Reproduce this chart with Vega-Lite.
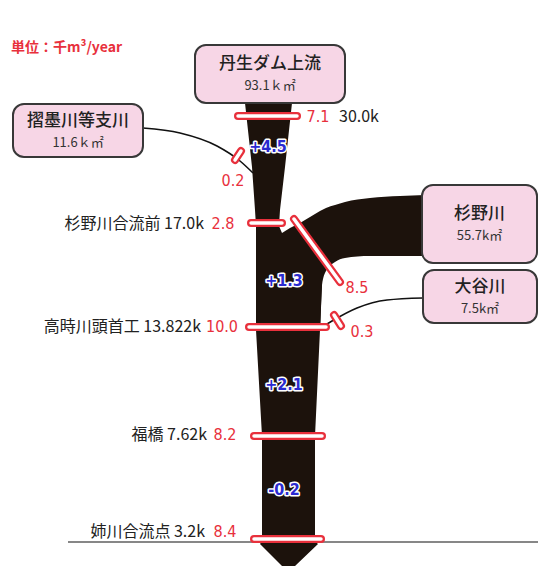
{
  "$schema": "https://vega.github.io/schema/vega-lite/v6.json",
  "width": 538,
  "height": 566,
  "autosize": "none",
  "padding": 0,
  "background": "white",
  "config": {"view": {"stroke": null}},
  "datasets": {
    "trunk": [
      {"y": 103, "xl": 245, "xr": 292},
      {"y": 167, "xl": 252, "xr": 285},
      {"y": 210, "xl": 255, "xr": 280},
      {"y": 226, "xl": 256, "xr": 279},
      {"y": 233, "xl": 256, "xr": 282},
      {"y": 245, "xl": 256, "xr": 302},
      {"y": 285, "xl": 256, "xr": 322},
      {"y": 330, "xl": 256, "xr": 320},
      {"y": 436, "xl": 262, "xr": 315},
      {"y": 541, "xl": 262, "xr": 315},
      {"y": 544, "xl": 260, "xr": 318},
      {"y": 566, "xl": 282, "xr": 295}
    ],
    "band": [
      {"x": 282, "top": 233, "bottom": 330},
      {"x": 290, "top": 228, "bottom": 330},
      {"x": 300, "top": 223, "bottom": 330},
      {"x": 310, "top": 217, "bottom": 330},
      {"x": 320, "top": 211, "bottom": 330},
      {"x": 322, "top": 210, "bottom": 285},
      {"x": 326, "top": 208, "bottom": 271},
      {"x": 335, "top": 205, "bottom": 262},
      {"x": 345, "top": 202, "bottom": 258},
      {"x": 370, "top": 198, "bottom": 256},
      {"x": 400, "top": 196, "bottom": 256},
      {"x": 425, "top": 195, "bottom": 256}
    ],
    "tribs": [
      {"id": "settsu", "x": 143, "y": 128},
      {"id": "settsu", "x": 180, "y": 133},
      {"id": "settsu", "x": 217, "y": 146},
      {"id": "settsu", "x": 240, "y": 161},
      {"id": "settsu", "x": 253, "y": 173},
      {"id": "otani", "x": 319, "y": 329},
      {"id": "otani", "x": 332, "y": 321},
      {"id": "otani", "x": 357, "y": 308},
      {"id": "otani", "x": 387, "y": 300},
      {"id": "otani", "x": 423, "y": 298}
    ],
    "baseline": [{"x": 68, "x2": 538, "y": 542}],
    "boxes": [
      {"name": "丹生ダム上流", "area": "93.1ｋ㎡", "x": 195, "x2": 345, "y": 45, "y2": 103},
      {"name": "摺墨川等支川", "area": "11.6ｋ㎡", "x": 13, "x2": 143, "y": 104, "y2": 157},
      {"name": "杉野川", "area": "55.7k㎡", "x": 422, "x2": 537, "y": 185, "y2": 263},
      {"name": "大谷川", "area": "7.5k㎡", "x": 423, "x2": 537, "y": 270, "y2": 323}
    ],
    "gauges": [
      {"x": 238, "y": 116, "x2": 297, "y2": 116},
      {"x": 251, "y": 223, "x2": 282, "y2": 223},
      {"x": 249, "y": 327, "x2": 326, "y2": 327},
      {"x": 254, "y": 436, "x2": 322, "y2": 436},
      {"x": 254, "y": 539, "x2": 321, "y2": 539},
      {"x": 294, "y": 219, "x2": 340, "y2": 282},
      {"x": 235, "y": 160, "x2": 241, "y2": 151},
      {"x": 334, "y": 315, "x2": 341, "y2": 326}
    ],
    "sites": [
      {"label": "杉野川合流前 17.0k", "x": 204, "y": 224},
      {"label": "高時川頭首工 13.822k", "x": 201, "y": 327},
      {"label": "福橋 7.62k", "x": 207, "y": 435},
      {"label": "姉川合流点 3.2k", "x": 205, "y": 532}
    ],
    "topsite": [{"label": "30.0k", "x": 339, "y": 117}],
    "values": [
      {"v": "7.1", "x": 318, "y": 117},
      {"v": "0.2", "x": 233, "y": 181},
      {"v": "2.8", "x": 223, "y": 224},
      {"v": "8.5", "x": 357, "y": 288},
      {"v": "10.0", "x": 222, "y": 327},
      {"v": "0.3", "x": 362, "y": 332},
      {"v": "8.2", "x": 225, "y": 435},
      {"v": "8.4", "x": 225, "y": 532}
    ],
    "changes": [
      {"v": "+4.5", "x": 268, "y": 147},
      {"v": "+1.3", "x": 284, "y": 281},
      {"v": "+2.1", "x": 284, "y": 385},
      {"v": "-0.2", "x": 284, "y": 490}
    ],
    "unit": [{"t": "単位：千m³/year", "x": 11, "y": 48}]
  },
  "layer": [
    {
      "data": {"name": "baseline"},
      "mark": {"type": "rule", "color": "#111111", "strokeWidth": 1.2},
      "encoding": {
        "x": {"field": "x", "type": "quantitative", "scale": {"domain": [0, 538], "nice": false, "zero": false}, "axis": null},
        "x2": {"field": "x2"},
        "y": {"field": "y", "type": "quantitative", "scale": {"domain": [0, 566], "nice": false, "zero": false, "reverse": true}, "axis": null}
      }
    },
    {
      "data": {"name": "trunk"},
      "mark": {"type": "area", "orient": "horizontal", "color": "#1c120c", "opacity": 1},
      "encoding": {
        "y": {"field": "y", "type": "quantitative"},
        "x": {"field": "xl", "type": "quantitative"},
        "x2": {"field": "xr"}
      }
    },
    {
      "data": {"name": "band"},
      "mark": {"type": "area", "orient": "vertical", "color": "#1c120c", "opacity": 1, "interpolate": "monotone"},
      "encoding": {
        "x": {"field": "x", "type": "quantitative"},
        "y": {"field": "top", "type": "quantitative"},
        "y2": {"field": "bottom"}
      }
    },
    {
      "data": {"name": "tribs"},
      "mark": {"type": "line", "color": "#111111", "strokeWidth": 1.6, "interpolate": "monotone"},
      "encoding": {
        "x": {"field": "x", "type": "quantitative"},
        "y": {"field": "y", "type": "quantitative"},
        "detail": {"field": "id"},
        "order": {"field": "x", "type": "quantitative"}
      }
    },
    {
      "data": {"name": "boxes"},
      "mark": {"type": "rect", "fill": "#f7d6e6", "stroke": "#383838", "strokeWidth": 2, "cornerRadius": 11},
      "encoding": {
        "x": {"field": "x", "type": "quantitative"},
        "x2": {"field": "x2"},
        "y": {"field": "y", "type": "quantitative"},
        "y2": {"field": "y2"}
      }
    },
    {
      "data": {"name": "boxes"},
      "transform": [
        {"calculate": "(datum.x + datum.x2) / 2", "as": "cx"},
        {"calculate": "(datum.y + datum.y2) / 2 - 10", "as": "ty"}
      ],
      "mark": {"type": "text", "font": "Noto Sans CJK JP", "fontSize": 17, "fontWeight": 500, "color": "#222222", "align": "center", "baseline": "middle"},
      "encoding": {
        "x": {"field": "cx", "type": "quantitative"},
        "y": {"field": "ty", "type": "quantitative"},
        "text": {"field": "name"}
      }
    },
    {
      "data": {"name": "boxes"},
      "transform": [
        {"calculate": "(datum.x + datum.x2) / 2", "as": "cx"},
        {"calculate": "(datum.y + datum.y2) / 2 + 12", "as": "ty"}
      ],
      "mark": {"type": "text", "font": "Noto Sans CJK JP", "fontSize": 13, "color": "#333333", "align": "center", "baseline": "middle"},
      "encoding": {
        "x": {"field": "cx", "type": "quantitative"},
        "y": {"field": "ty", "type": "quantitative"},
        "text": {"field": "area"}
      }
    },
    {
      "data": {"name": "gauges"},
      "mark": {"type": "rule", "color": "#e8303c", "strokeWidth": 8, "strokeCap": "round"},
      "encoding": {
        "x": {"field": "x", "type": "quantitative"},
        "x2": {"field": "x2"},
        "y": {"field": "y", "type": "quantitative"},
        "y2": {"field": "y2"}
      }
    },
    {
      "data": {"name": "gauges"},
      "mark": {"type": "rule", "color": "#ffffff", "strokeWidth": 3.5, "strokeCap": "round"},
      "encoding": {
        "x": {"field": "x", "type": "quantitative"},
        "x2": {"field": "x2"},
        "y": {"field": "y", "type": "quantitative"},
        "y2": {"field": "y2"}
      }
    },
    {
      "data": {"name": "sites"},
      "mark": {"type": "text", "font": "Noto Sans CJK JP", "fontSize": 16, "color": "#222222", "align": "right", "baseline": "middle"},
      "encoding": {
        "x": {"field": "x", "type": "quantitative"},
        "y": {"field": "y", "type": "quantitative"},
        "text": {"field": "label"}
      }
    },
    {
      "data": {"name": "topsite"},
      "mark": {"type": "text", "font": "Noto Sans CJK JP", "fontSize": 16, "color": "#222222", "align": "left", "baseline": "middle"},
      "encoding": {
        "x": {"field": "x", "type": "quantitative"},
        "y": {"field": "y", "type": "quantitative"},
        "text": {"field": "label"}
      }
    },
    {
      "data": {"name": "values"},
      "mark": {"type": "text", "font": "Liberation Sans Narrow, DejaVu Sans Condensed, Liberation Sans", "fontSize": 16, "color": "#e8303c", "align": "center", "baseline": "middle"},
      "encoding": {
        "x": {"field": "x", "type": "quantitative"},
        "y": {"field": "y", "type": "quantitative"},
        "text": {"field": "v"}
      }
    },
    {
      "data": {"name": "changes"},
      "mark": {"type": "text", "font": "Liberation Sans Narrow, DejaVu Sans Condensed, Liberation Sans", "fontSize": 16, "fontWeight": "bold", "color": "#ffffff", "stroke": "#ffffff", "strokeWidth": 3, "strokeJoin": "round", "align": "center", "baseline": "middle"},
      "encoding": {
        "x": {"field": "x", "type": "quantitative"},
        "y": {"field": "y", "type": "quantitative"},
        "text": {"field": "v"}
      }
    },
    {
      "data": {"name": "changes"},
      "mark": {"type": "text", "font": "Liberation Sans Narrow, DejaVu Sans Condensed, Liberation Sans", "fontSize": 16, "fontWeight": "bold", "color": "#2a2ad0", "align": "center", "baseline": "middle"},
      "encoding": {
        "x": {"field": "x", "type": "quantitative"},
        "y": {"field": "y", "type": "quantitative"},
        "text": {"field": "v"}
      }
    },
    {
      "data": {"name": "unit"},
      "mark": {"type": "text", "font": "Noto Sans CJK JP", "fontSize": 14, "fontWeight": "bold", "color": "#e8303c", "align": "left", "baseline": "middle"},
      "encoding": {
        "x": {"field": "x", "type": "quantitative"},
        "y": {"field": "y", "type": "quantitative"},
        "text": {"field": "t"}
      }
    }
  ]
}
